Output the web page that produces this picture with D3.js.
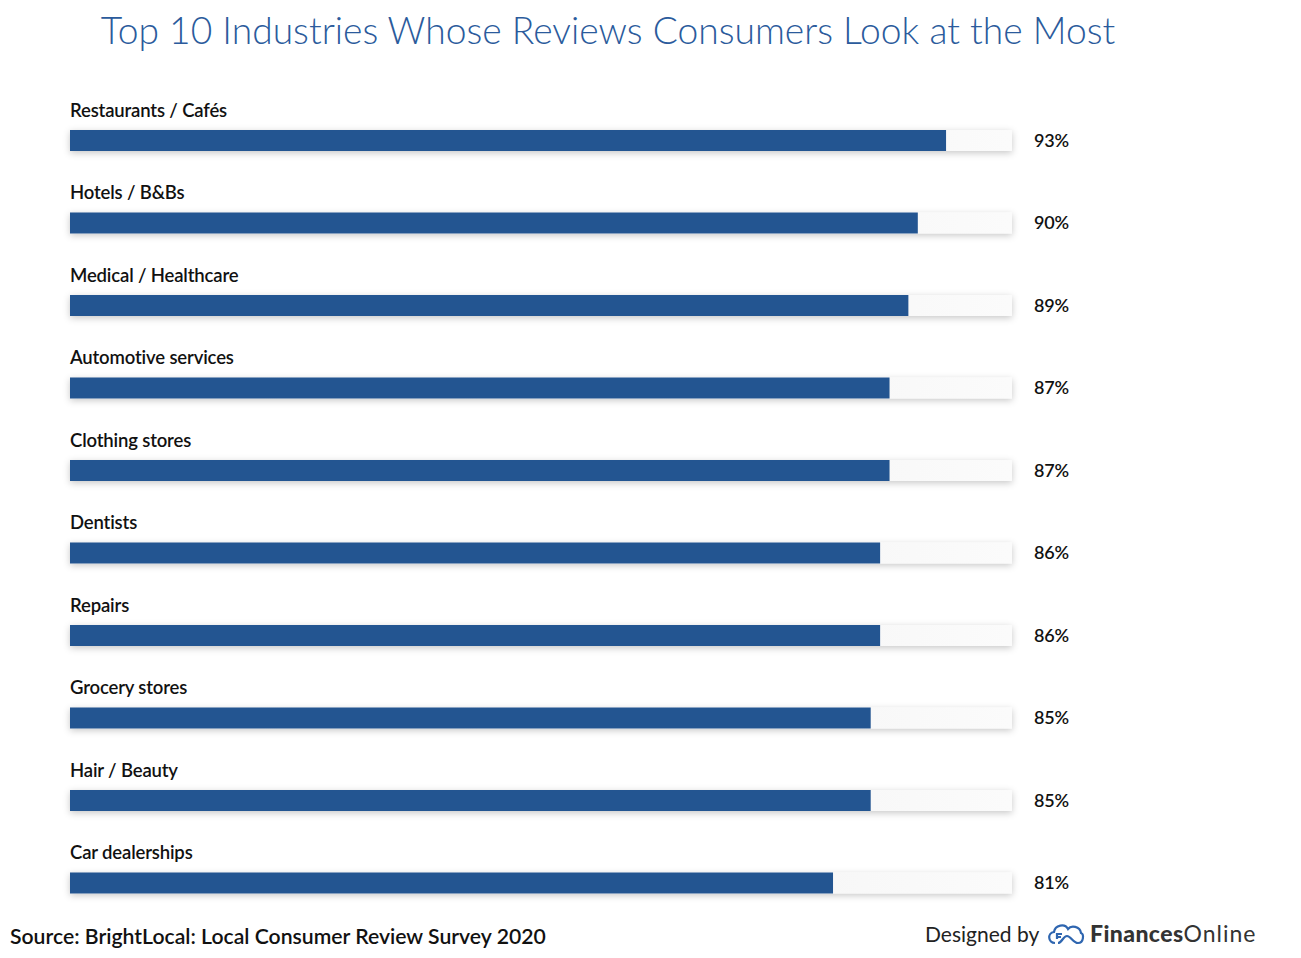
<!DOCTYPE html>
<html><head><meta charset="utf-8">
<script src="https://cdn.jsdelivr.net/npm/d3@7"></script>
<style>body{margin:0;background:#fff;}svg{display:block;font-family:Lato,sans-serif;}</style>
</head><body>
<svg id="c" width="1301" height="958"></svg>
<script>
const categories = ["Restaurants / Cafés","Hotels / B&Bs","Medical / Healthcare","Automotive services","Clothing stores","Dentists","Repairs","Grocery stores","Hair / Beauty","Car dealerships"];
const values = [93,90,89,87,87,86,86,85,85,81];
const titleText = "Top 10 Industries Whose Reviews Consumers Look at the Most";
const sourceText = "Source: BrightLocal: Local Consumer Review Survey 2020";

const svg = d3.select("#c");
const defs = svg.append("defs");
const grad = defs.append("linearGradient").attr("id","track").attr("x1","0").attr("x2","1");
grad.append("stop").attr("offset","0").attr("stop-color","#e8e8e8");
grad.append("stop").attr("offset","1").attr("stop-color","#fbfbfb");
const f = defs.append("filter").attr("id","sh").attr("x","-5%").attr("y","-100%").attr("width","110%").attr("height","300%");
f.append("feDropShadow").attr("dx",0).attr("dy",2).attr("stdDeviation",3.5).attr("flood-color","#000").attr("flood-opacity",0.22);

const x = d3.scaleLinear().domain([0,100]).range([70,1012]);
const y = d3.scaleBand().domain(categories).range([95,920]).paddingInner(0).paddingOuter(0);
const barH = 21, barOff = 35;

svg.append("text").attr("x",608).attr("y",44).attr("text-anchor","middle")
  .attr("font-size",37.2).attr("font-weight",300).attr("fill","#2b5b9c").text(titleText);

const g = svg.selectAll("g.row").data(categories).join("g").attr("class","row")
  .attr("transform", d => `translate(0,${y(d)})`);

g.append("rect").attr("x",x(0)).attr("y",barOff).attr("width",x(100)-x(0)).attr("height",barH)
  .attr("fill","url(#track)").attr("filter","url(#sh)");
g.append("rect").attr("x",x(0)).attr("y",barOff).attr("width",(d,i)=>x(values[i])-x(0)).attr("height",barH)
  .attr("fill","#235591");
g.append("text").attr("x",70).attr("y",21.5).attr("font-size",18.5).attr("font-weight",600)
  .attr("letter-spacing",-0.15).attr("fill","#111").text(d=>d);
g.append("text").attr("x",1034).attr("y",barOff+barH/2).attr("dy","0.36em").attr("font-size",18).attr("font-weight",600)
  .attr("letter-spacing",-0.2).attr("fill","#111").text((d,i)=>values[i]+"%");

svg.append("text").attr("x",10).attr("y",944).attr("font-size",21.2).attr("font-weight",600).attr("fill","#111").text(sourceText);
svg.append("text").attr("x",925).attr("y",942).attr("font-size",21).attr("fill","#222").text("Designed by");
// logo
const lg = svg.append("g").attr("transform","translate(1047,922)").attr("fill","none").attr("stroke","#2f66b0").attr("stroke-width",2.2);
lg.append("path").attr("d","M8,21 C1,21 0,11 7,10 C8,3 18,1 21,7 C24,3 33,4 34,11 C37,12 37,21 31,21 C26,21 24,14 20,14 C16,14 15,21 11,21");
lg.append("path").attr("d","M10,17 L10,12 L15,12 M10,15 L14,15");
const t = svg.append("text").attr("x",1090).attr("y",942).attr("font-size",23).attr("fill","#333");
t.append("tspan").attr("font-weight",900).attr("letter-spacing",0.4).text("Finances");
t.append("tspan").attr("font-weight",400).attr("letter-spacing",1).text("Online");
</script>
</body></html>
